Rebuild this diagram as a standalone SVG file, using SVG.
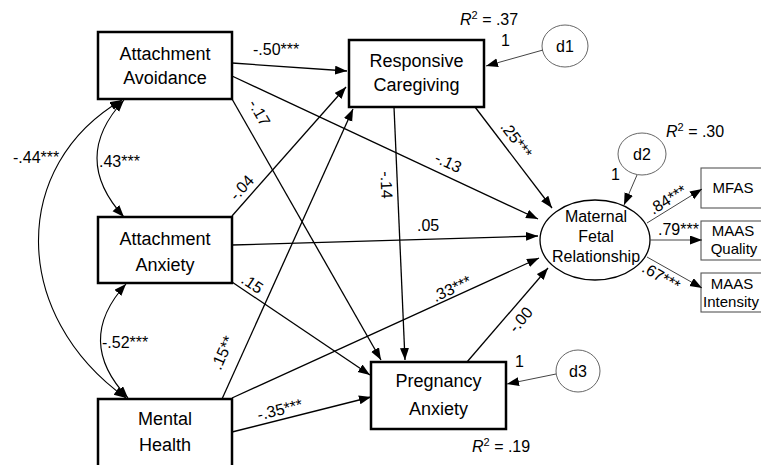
<svg xmlns="http://www.w3.org/2000/svg" width="761" height="465" viewBox="0 0 761 465">
<style>
text{font-family:"Liberation Sans",Arial,Helvetica,sans-serif;fill:#000}
.box{fill:#fff;stroke:#000;stroke-width:2.5}
.ibox{fill:#fff;stroke:#555;stroke-width:1.1}
.err{fill:#fff;stroke:#666;stroke-width:1}
.lat{fill:#fff;stroke:#000;stroke-width:1.3}
.nt{font-size:18px;text-anchor:middle}
.lt{font-size:16px;text-anchor:middle}
.it{font-size:15px;text-anchor:middle}
.lb{font-size:16px}
.lbc{font-size:16px;text-anchor:middle}
.p{fill:none;stroke:#000;stroke-width:1.3;marker-end:url(#ah)}
.t{fill:none;stroke:#444;stroke-width:1;marker-end:url(#ah)}
.cov{fill:none;stroke:#000;stroke-width:1.1;marker-end:url(#ah);marker-start:url(#ah)}
</style>
<defs>
<marker id="ah" markerUnits="userSpaceOnUse" markerWidth="13" markerHeight="10" refX="12" refY="4.5" orient="auto-start-reverse">
<path d="M0,0 L12,4.5 L0,9 z" fill="#000"/>
</marker>
</defs>

<g id="avoidance">
<rect class="box" x="98" y="32" width="134" height="67"/>
<text class="nt" x="165" y="60">Attachment</text>
<text class="nt" x="165" y="84">Avoidance</text>
</g>
<g id="anxiety">
<rect class="box" x="98" y="217" width="134" height="66"/>
<text class="nt" x="165" y="245">Attachment</text>
<text class="nt" x="165" y="271">Anxiety</text>
</g>
<g id="mental">
<rect class="box" x="98" y="399" width="134" height="70"/>
<text class="nt" x="165" y="425">Mental</text>
<text class="nt" x="165" y="451">Health</text>
</g>
<g id="responsive">
<rect class="box" x="349" y="40" width="135" height="67"/>
<text class="nt" x="416.5" y="67">Responsive</text>
<text class="nt" x="416.5" y="91">Caregiving</text>
<text class="lb" x="460" y="25"><tspan font-style="italic">R</tspan><tspan font-size="11" dy="-6">2</tspan><tspan dy="6"> = .37</tspan></text>
</g>
<g id="pregnancy">
<rect class="box" x="371" y="362" width="135" height="67"/>
<text class="nt" x="438.5" y="387">Pregnancy</text>
<text class="nt" x="438.5" y="415">Anxiety</text>
<text class="lb" x="472" y="452"><tspan font-style="italic">R</tspan><tspan font-size="11" dy="-6">2</tspan><tspan dy="6"> = .19</tspan></text>
</g>
<g id="mfr">
<ellipse class="lat" cx="595" cy="240" rx="55" ry="40"/>
<text class="lt" x="596" y="222">Maternal</text>
<text class="lt" x="596" y="242">Fetal</text>
<text class="lt" x="596" y="262">Relationship</text>
<text class="lb" x="666" y="137"><tspan font-style="italic">R</tspan><tspan font-size="11" dy="-6">2</tspan><tspan dy="6"> = .30</tspan></text>
</g>
<g id="d1">
<ellipse class="err" cx="565" cy="46" rx="23" ry="21"/>
<text class="lt" x="565" y="52">d1</text>
<text class="lb" x="501" y="46">1</text>
</g>
<g id="d2">
<ellipse class="err" cx="642" cy="154" rx="24" ry="21"/>
<text class="lt" x="642" y="160">d2</text>
<text class="lb" x="611" y="180">1</text>
</g>
<g id="d3">
<ellipse class="err" cx="578" cy="371" rx="22" ry="21"/>
<text class="lt" x="578" y="377">d3</text>
<text class="lb" x="515" y="367">1</text>
</g>
<g id="mfas">
<rect class="ibox" x="701" y="168" width="70" height="40"/>
<text class="it" x="733" y="193">MFAS</text>
</g>
<g id="maasq">
<rect class="ibox" x="701" y="221" width="70" height="39"/>
<text class="it" x="733" y="236">MAAS</text>
<text class="it" x="734" y="254">Quality</text>
</g>
<g id="maasi">
<rect class="ibox" x="701" y="273" width="70" height="39"/>
<text class="it" x="732" y="289">MAAS</text>
<text class="it" x="731" y="307">Intensity</text>
</g>

<g id="connectors">
<line class="p" x1="232" y1="63" x2="347" y2="71"/>
<line class="p" x1="232" y1="76" x2="538" y2="219"/>
<line class="p" x1="232" y1="99" x2="381" y2="360"/>
<line class="p" x1="232" y1="216" x2="346" y2="87"/>
<line class="p" x1="222" y1="399" x2="353" y2="109"/>
<line class="p" x1="232" y1="245" x2="538" y2="236"/>
<line class="p" x1="232" y1="282" x2="370" y2="375"/>
<line class="p" x1="232" y1="398" x2="539" y2="258"/>
<line class="p" x1="232" y1="432" x2="371" y2="397"/>
<line class="p" x1="394" y1="107" x2="405" y2="360"/>
<line class="p" x1="475" y1="107" x2="552" y2="208"/>
<line class="p" x1="467" y1="362" x2="548" y2="268"/>
<line class="t" x1="543" y1="50" x2="486" y2="66"/>
<line class="t" x1="637" y1="175" x2="624" y2="205"/>
<line class="t" x1="556" y1="374" x2="507" y2="384"/>
<line class="t" x1="647" y1="223" x2="702" y2="189"/>
<line class="t" x1="650" y1="240" x2="702" y2="240"/>
<line class="t" x1="647" y1="257" x2="702" y2="288"/>
<path class="cov" d="M124,100 Q70,158 124,217"/>
<path class="cov" d="M126,284 Q74,341 128,398"/>
<path class="cov" d="M122,100 C10,165 10,315 126,398"/>
</g>

<g id="labels">
<text class="lb" x="253" y="55">-.50***</text>
<text class="lbc" transform="translate(448,163) rotate(25)" y="5">-.13</text>
<text class="lbc" transform="translate(259,113) rotate(60)" y="5">-.17</text>
<text class="lbc" transform="translate(242,188) rotate(-48)" y="5">-.04</text>
<text class="lbc" transform="translate(223,353) rotate(-66)" y="5">.15**</text>
<text class="lb" x="417" y="231">.05</text>
<text class="lbc" transform="translate(252,284) rotate(34)" y="5">.15</text>
<text class="lbc" transform="translate(452,289) rotate(-25)" y="5">.33***</text>
<text class="lbc" transform="translate(280,410) rotate(-14)" y="5">-.35***</text>
<text class="lbc" transform="translate(386,185) rotate(88)" y="5">-.14</text>
<text class="lbc" transform="translate(516,140) rotate(53)" y="5">.25***</text>
<text class="lbc" transform="translate(521,320) rotate(-50)" y="5">-.00</text>
<text class="lbc" transform="translate(668,200) rotate(-32)" y="5">.84***</text>
<text class="lb" x="658" y="235">.79***</text>
<text class="lbc" transform="translate(661,277) rotate(30)" y="5">.67***</text>
<text class="lb" x="99" y="167">.43***</text>
<text class="lb" x="102" y="348">-.52***</text>
<text class="lb" x="13" y="163">-.44***</text>
</g>
</svg>
